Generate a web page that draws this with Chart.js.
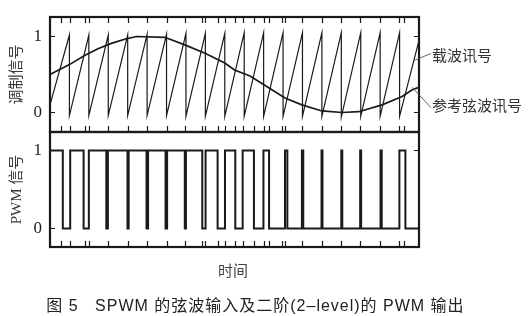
<!DOCTYPE html>
<html>
<head>
<meta charset="utf-8">
<script src="https://cdn.jsdelivr.net/npm/chart.js@4.4.0/dist/chart.umd.min.js"></script>
<style>
body { margin: 0; background: #fff; }
#wrap { position: relative; width: 531px; height: 316px; overflow: hidden; background: #fff; }
#top { position: absolute; left: 0; top: 0; }
#bottom { position: absolute; left: 0; top: 125px; }
#xlabel { position: absolute; left: 0; top: 259px; width: 466px; text-align: center;
  font: 15px "Noto Sans CJK SC", sans-serif; color: #444; }
#caption { position: absolute; left: 0; top: 292px; width: 511px; text-align: center; white-space: pre;
  font: 16px "Liberation Sans", "Noto Sans CJK SC", sans-serif; letter-spacing: 1px; color: #222; }
</style>
</head>
<body>
<div id="wrap">
  <canvas id="top" width="531" height="140"></canvas>
  <canvas id="bottom" width="531" height="135"></canvas>
  <div id="xlabel">时间</div>
  <div id="caption">图 5   SPWM 的弦波输入及二阶(2–level)的 PWM 输出</div>
</div>
<script>
// time in carrier periods
var carrierTimes = [0, 1, 1, 2, 2, 3, 3, 4, 4, 5, 5, 6, 6, 7, 7, 8, 8, 9, 9, 10, 10,
  11, 11, 12, 12, 13, 13, 14, 14, 15, 15, 16, 16, 17, 17, 18, 18, 19];
var carrierValues = [0.1, 1.02, -0.04, 1.02, -0.04, 1.02, -0.04, 1.02, -0.04, 1.03, -0.04,
  1.03, -0.04, 1.04, -0.05, 1.04, -0.05, 1.04, -0.05, 1.05, -0.05, 1.05, -0.05, 1.05, -0.05,
  1.05, -0.05, 1.05, -0.05, 1.05, -0.06, 1.05, -0.05, 1.05, -0.05, 1.05, -0.05, 0.95];

var sineTimes = [0, 1.0, 1.78, 2.47, 3.16, 3.93, 4.45, 5.91, 6.94, 7.98, 9.0, 9.5, 10.3,
  11.24, 12.1, 12.97, 14.0, 15.03, 15.9, 17.1, 18.13, 18.65, 19];
var sineValues = [0.5, 0.63, 0.75, 0.84, 0.91, 0.97, 1.0, 0.99, 0.89, 0.78, 0.65, 0.56, 0.48,
  0.33, 0.19, 0.1, 0.02, 0.0, 0.01, 0.1, 0.21, 0.3, 0.33];

var pwmTimes = [0, 0.66, 1.04, 1.73, 2.0, 2.9, 2.98, 3.99, 4.05, 4.97, 5.05, 5.95, 6.03,
  6.94, 7.0, 7.84, 8.01, 8.63, 9.01, 9.54, 9.92, 10.5, 10.99, 11.28, 12.1, 12.22, 12.97,
  13.04, 13.98, 14.03, 15.0, 15.05, 15.97, 16.02, 17.02, 17.08, 17.99, 18.3, 19];
var pwmLevels = [1, 0, 1, 0, 1, 0, 1, 0, 1, 0, 1, 0, 1, 0, 1, 0, 1, 0, 1, 0, 1, 0, 1, 0,
  1, 0, 1, 0, 1, 0, 1, 0, 1, 0, 1, 0, 1, 0, 0];

// tick marks on the time axis (switching instants)
var switchTicks = [0.59, 1.01, 1.78, 2.01, 2.97, 4.0, 4.98, 6.01, 6.97, 7.85, 7.98, 8.65,
  9.01, 9.55, 9.94, 10.5, 11.0, 11.27, 11.95, 12.1, 12.98, 14.0, 15.0, 15.98, 17.01, 17.97, 18.25];
var yTicks = [0, 1];

var ink = '#1a1a1a';

function points(xs, ys) {
  var out = [];
  for (var i = 0; i < xs.length; i++) out.push({ x: xs[i], y: ys[i] });
  return out;
}

var frame = {
  id: 'frame',
  afterDraw: function(chart, args, opts) {
    var ctx = chart.ctx, a = chart.chartArea;
    var x = chart.scales.x, y = chart.scales.y;
    ctx.save();
    ctx.strokeStyle = ink;
    ctx.lineWidth = 1.2;
    ctx.beginPath();
    for (var i = 0; i < switchTicks.length; i++) {
      var px = Math.round(x.getPixelForValue(switchTicks[i])) + 0.5;
      if (opts.top) { ctx.moveTo(px, a.top); ctx.lineTo(px, a.top + 6); }
      if (opts.bottom) { ctx.moveTo(px, a.bottom); ctx.lineTo(px, a.bottom - 6); }
    }
    for (var j = 0; j < yTicks.length; j++) {
      var py = y.getPixelForValue(yTicks[j]);
      ctx.moveTo(a.left, py); ctx.lineTo(a.left + 5, py);
      ctx.moveTo(a.right, py); ctx.lineTo(a.right - 5, py);
    }
    ctx.stroke();
    ctx.lineWidth = 2.2;
    ctx.strokeRect(a.left, a.top, a.right - a.left, a.bottom - a.top);
    ctx.restore();
  }
};

var sideLabels = {
  id: 'sideLabels',
  afterDraw: function(chart) {
    var ctx = chart.ctx, a = chart.chartArea;
    var x = chart.scales.x, y = chart.scales.y;
    // text, anchor on the curve (t, value), text centre value
    var items = [['载波讯号', 18.7, 0.68, 0.75], ['参考弦波讯号', 18.65, 0.33, 0.09]];
    ctx.save();
    ctx.font = '15px "Noto Sans CJK SC"';
    ctx.fillStyle = '#333';
    ctx.strokeStyle = '#555';
    ctx.lineWidth = 0.9;
    ctx.textBaseline = 'middle';
    for (var i = 0; i < items.length; i++) {
      var px = x.getPixelForValue(items[i][1]), py = y.getPixelForValue(items[i][2]);
      var ty = y.getPixelForValue(items[i][3]);
      var endY = i == 0 ? ty - 2 : ty + 2;
      ctx.beginPath();
      ctx.moveTo(px, py);
      ctx.lineTo(a.right + 12, endY);
      ctx.stroke();
      ctx.fillText(items[i][0], a.right + 13, ty);
    }
    ctx.restore();
  }
};

function yScale(min, max, title) {
  return {
    type: 'linear',
    min: min,
    max: max,
    afterBuildTicks: function(s) { s.ticks = yTicks.map(function(v) { return { value: v }; }); },
    afterFit: function(s) {
      s.width = 50;
      // labels sit well inside the range, the layout padding is enough
      s.paddingTop = 0;
      s.paddingBottom = 0;
    },
    grid: { display: false, drawTicks: false },
    border: { display: false },
    ticks: { padding: 8, color: '#222', font: { family: 'Liberation Serif', size: 17 } },
    title: {
      display: true, text: title, color: '#3a3a3a',
      font: { family: '"Liberation Serif", "Noto Sans CJK SC"', size: 15 },
      padding: { top: 8, bottom: 0 }
    }
  };
}

var xScale = { type: 'linear', min: 0, max: 19, display: false };

var topChart = new Chart(document.getElementById('top').getContext('2d'), {
  type: 'line',
  data: {
    datasets: [{
      data: points(carrierTimes, carrierValues),
      borderColor: ink, borderWidth: 1.2, pointRadius: 0, tension: 0
    }, {
      data: points(sineTimes, sineValues),
      borderColor: ink, borderWidth: 1.7, pointRadius: 0, tension: 0
    }]
  },
  options: {
    responsive: false,
    animation: false,
    layout: { padding: { left: 0, right: 112, top: 17, bottom: 8 } },
    scales: { x: xScale, y: yScale(-0.257, 1.257, '调制信号') },
    plugins: { legend: { display: false }, tooltip: { enabled: false }, frame: { top: true, bottom: true } }
  },
  plugins: [frame, sideLabels]
});

var bottomChart = new Chart(document.getElementById('bottom').getContext('2d'), {
  type: 'line',
  data: {
    datasets: [{
      data: points(pwmTimes, pwmLevels),
      borderColor: ink, borderWidth: 2, pointRadius: 0, stepped: true
    }]
  },
  options: {
    responsive: false,
    animation: false,
    layout: { padding: { left: 0, right: 112, top: 7, bottom: 13 } },
    scales: { x: xScale, y: yScale(-0.237, 1.237, 'PWM 信号') },
    plugins: { legend: { display: false }, tooltip: { enabled: false }, frame: { top: false, bottom: true } }
  },
  plugins: [frame]
});
</script>
</body>
</html>
